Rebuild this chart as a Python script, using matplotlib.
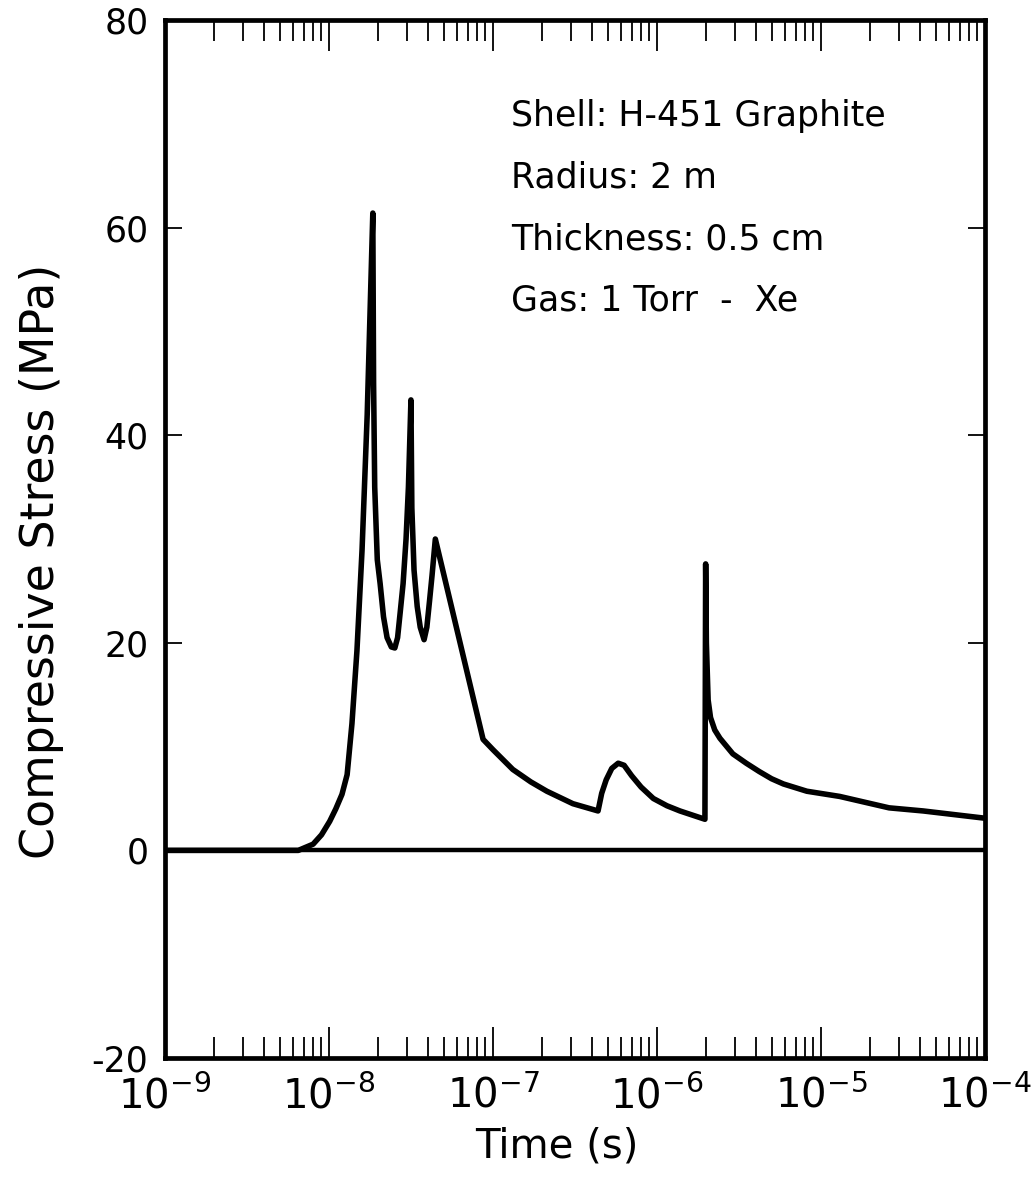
import numpy as np
import matplotlib
matplotlib.use("Agg")
from matplotlib import pyplot as plt
from matplotlib.ticker import LogLocator, FixedLocator, NullFormatter

# time (s) and compressive stress (MPa)
time_s = [1e-9, 6.5e-9, 8.0e-9, 9.0e-9, 1.01e-8, 1.1e-8, 1.2e-8, 1.29e-8,
          1.38e-8, 1.48e-8, 1.59e-8, 1.71e-8, 1.85e-8, 1.87e-8, 1.9e-8,
          1.97e-8, 2.05e-8, 2.15e-8, 2.26e-8, 2.4e-8, 2.52e-8, 2.62e-8,
          2.72e-8, 2.83e-8, 2.95e-8, 3.05e-8, 3.16e-8, 3.2e-8, 3.3e-8,
          3.45e-8, 3.6e-8, 3.8e-8, 3.95e-8, 4.1e-8, 4.25e-8, 4.45e-8,
          8.7e-8, 1.0e-7, 1.32e-7, 1.7e-7, 2.13e-7, 3.07e-7, 4.37e-7,
          4.6e-7, 4.9e-7, 5.3e-7, 5.8e-7, 6.3e-7, 7.0e-7, 8.0e-7, 9.5e-7,
          1.15e-6, 1.38e-6, 1.96e-6, 1.98e-6, 2.0e-6, 2.05e-6, 2.12e-6,
          2.25e-6, 2.42e-6, 2.9e-6, 3.5e-6, 4.2e-6, 5.0e-6, 5.9e-6, 8.2e-6,
          1.3e-5, 2.6e-5, 4.2e-5, 1e-4]
stress_mpa = [0.0, 0.0, 0.6, 1.5, 2.8, 4.0, 5.4, 7.3,
              12.2, 19.2, 28.9, 42.0, 61.4, 45.0, 35.0,
              28.0, 25.7, 22.5, 20.5, 19.6, 19.5, 20.5,
              23.0, 25.7, 30.0, 35.0, 43.4, 33.0, 27.0,
              23.5, 21.5, 20.3, 21.5, 24.0, 26.5, 30.0,
              10.7, 9.7, 7.8, 6.6, 5.7, 4.5, 3.8,
              5.5, 6.8, 7.9, 8.4, 8.2, 7.2, 6.1, 5.0,
              4.3, 3.8, 3.0, 27.6, 20.0, 14.5, 12.8,
              11.6, 10.8, 9.3, 8.4, 7.6, 6.9, 6.4, 5.7,
              5.2, 4.1, 3.8, 3.1]

y_ticks = [-20, 0, 20, 40, 60, 80]
x_ticks = [1e-9, 1e-8, 1e-7, 1e-6, 1e-5, 1e-4]
x_labels = [r"$10^{-9}$", r"$10^{-8}$", r"$10^{-7}$", r"$10^{-6}$",
            r"$10^{-5}$", r"$10^{-4}$"]
notes = ["Shell: H-451 Graphite", "Radius: 2 m", "Thickness: 0.5 cm",
         "Gas: 1 Torr  -  Xe"]

plt.rcParams["mathtext.fontset"] = "dejavusans"
plt.rcParams["axes.unicode_minus"] = False

fig = plt.figure(figsize=(10.33, 11.89), dpi=100)
ax = fig.add_axes([165 / 1033, 1 - 1058 / 1189, 820 / 1033, 1038 / 1189])

ax.plot(time_s, stress_mpa, color="black", lw=4.0, solid_joinstyle="round")
ax.axhline(0, color="black", lw=3.2)

ax.set_xscale("log")
ax.set_xlim(1e-9, 1e-4)
ax.set_ylim(-20, 80)

ax.xaxis.set_major_locator(FixedLocator(x_ticks))
ax.set_xticklabels(x_labels)
ax.xaxis.set_minor_locator(LogLocator(base=10, subs=np.arange(2, 10)))
ax.xaxis.set_minor_formatter(NullFormatter())
ax.set_yticks(y_ticks)

ax.tick_params(axis="x", which="major", direction="in", top=True,
               length=22, width=1.3, labelsize=29, pad=13)
ax.tick_params(axis="x", which="minor", direction="in", top=True,
               length=15, width=1.3)
ax.tick_params(axis="y", which="major", direction="in", right=True,
               length=12, width=1.3, labelsize=25, pad=12)
ax.tick_params(axis="y", which="minor", left=False, right=False)

for s in ax.spines.values():
    s.set_linewidth(3.4)

ax.set_xlabel("Time (s)", fontsize=29)
ax.set_ylabel("Compressive Stress (MPa)", fontsize=33)
ax.xaxis.set_label_coords(0.478, -0.066)
ax.yaxis.set_label_coords(-0.123, 0.478)

for i, line in enumerate(notes):
    ax.text(0.422, 0.9075 - i * 0.0593, line, transform=ax.transAxes,
            fontsize=25, va="center", ha="left")

fig.savefig("out.png", dpi=100)
